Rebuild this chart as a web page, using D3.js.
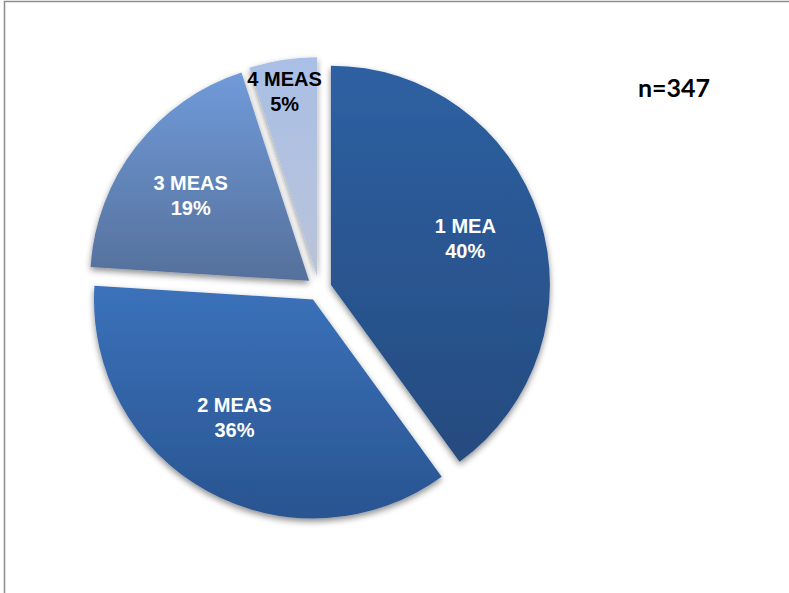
<!DOCTYPE html>
<html>
<head>
<meta charset="utf-8">
<script src="https://cdn.jsdelivr.net/npm/d3@7/dist/d3.min.js"></script>
<style>
  html, body { margin: 0; padding: 0; background: #fff; }
  svg { display: block; }
</style>
</head>
<body>
<script>
// Number of MEAs per case (share of 347 cases, in %)
const categories = ["1 MEA", "2 MEAS", "3 MEAS", "4 MEAS"];
const shares = [40, 36, 19, 5];
const sampleLabel = "n=347";

// Two-stop vertical gradients for each slice (top, bottom)
const topColors = ["#2e60a2", "#3b72bb", "#709bd9", "#a9bfe6"];
const bottomColors = ["#254b7f", "#295490", "#55709b", "#bac4d9"];
const textColors = ["#ffffff", "#ffffff", "#ffffff", "#000000"];

const W = 789, H = 593;
const cx = 319, cy = 288.5, R = 219, explode = 12.5;

// fine placement of the in-slice labels (pixels, relative to the radial anchor)
const labelNudge = [[-1, -2], [-10, -7], [-6, 2], [-3, 1]];

const svg = d3.select("body").append("svg")
  .attr("width", W).attr("height", H);

const defs = svg.append("defs");
const shadow = defs.append("filter").attr("id", "shadow")
  .attr("x", "-20%").attr("y", "-20%").attr("width", "140%").attr("height", "140%");
shadow.append("feDropShadow")
  .attr("dx", 0).attr("dy", 3).attr("stdDeviation", 3)
  .attr("flood-color", "#000").attr("flood-opacity", 0.45);

categories.forEach((c, i) => {
  const g = defs.append("linearGradient").attr("id", "grad" + i)
    .attr("x1", 0).attr("y1", 0).attr("x2", 0).attr("y2", 1);
  g.append("stop").attr("offset", "0%").attr("stop-color", topColors[i]);
  g.append("stop").attr("offset", "100%").attr("stop-color", bottomColors[i]);
});

// chart frame
svg.append("rect")
  .attr("x", 4.5).attr("y", 1.5)
  .attr("width", W + 20).attr("height", H + 20)
  .attr("fill", "none").attr("stroke", "#8c8c8c").attr("stroke-width", 1.5);

const data = categories.map((c, i) => ({ name: c, value: shares[i], i }));
const pie = d3.pie().value(d => d.value).sort(null);
const arcs = pie(data);
const arc = d3.arc().innerRadius(0).outerRadius(R);

const plot = svg.append("g").attr("transform", `translate(${cx},${cy})`);

function dir(a) {
  const m = (a.startAngle + a.endAngle) / 2;
  return [Math.sin(m), -Math.cos(m)];
}

const slices = plot.selectAll("g.slice").data(arcs).join("g")
  .attr("class", "slice")
  .attr("transform", a => {
    const [ux, uy] = dir(a);
    return `translate(${ux * explode},${uy * explode})`;
  });

slices.append("path")
  .attr("d", arc)
  .attr("fill", a => `url(#grad${a.data.i})`)
  .attr("filter", "url(#shadow)");

// labels: name on the first line, percentage on the second
slices.each(function (a) {
  const [ux, uy] = dir(a);
  const frac = a.data.value < 10 ? 0.86 : 0.65;
  const [nx, ny] = labelNudge[a.data.i];
  const x = ux * R * frac + nx, y = uy * R * frac + ny;
  const t = d3.select(this).append("text")
    .attr("text-anchor", "middle")
    .attr("font-family", "'Liberation Sans', Arial, sans-serif")
    .attr("font-weight", "bold")
    .attr("font-size", 20)
    .attr("fill", textColors[a.data.i]);
  t.append("tspan").attr("x", x).attr("y", y - 12.5 + 7).text(a.data.name);
  t.append("tspan").attr("x", x).attr("y", y + 12.5 + 7).text(a.data.value + "%");
});

svg.append("text")
  .attr("x", 674).attr("y", 97)
  .attr("text-anchor", "middle")
  .attr("font-family", "Lato, 'Open Sans', sans-serif")
  .attr("font-weight", "bold")
  .attr("font-size", 25)
  .attr("fill", "#000")
  .text(sampleLabel);
</script>
</body>
</html>
